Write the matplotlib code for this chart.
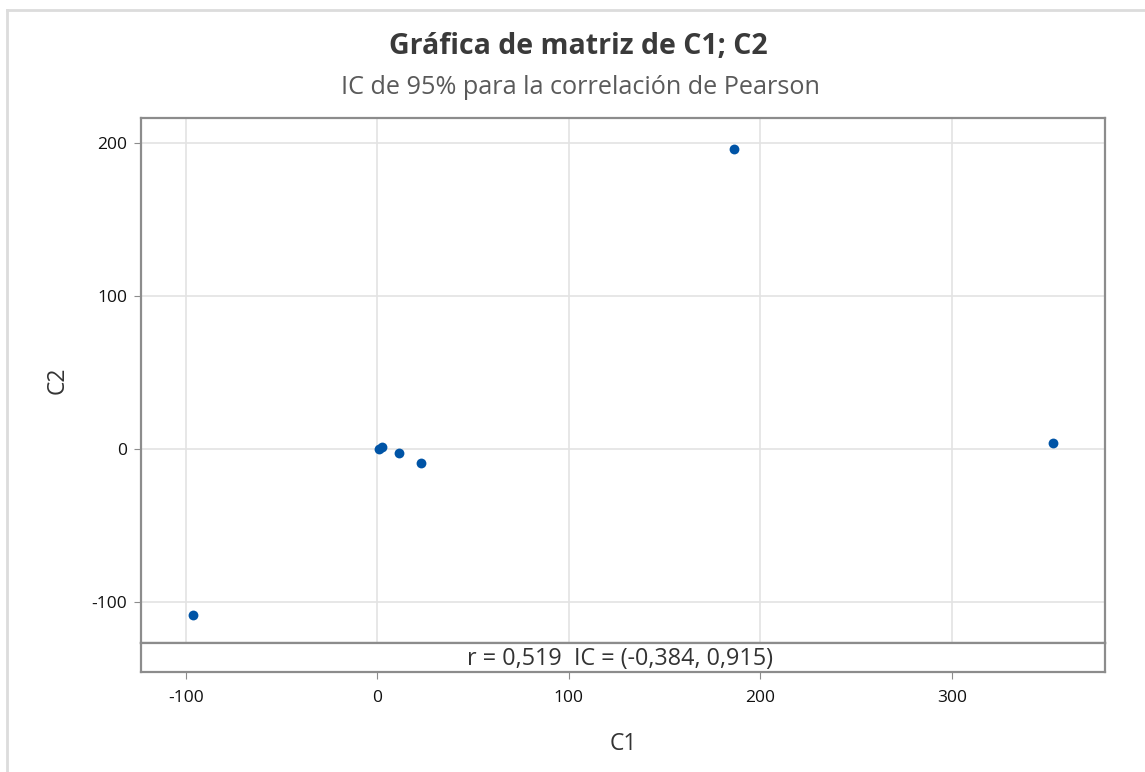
import matplotlib.pyplot as plt
from matplotlib.lines import Line2D

# Datos
c1 = [-96.5, 0.9, 2.2, 11.1, 22.7, 186.3, 352.6]
c2 = [-108.3, 0.0, 1.7, -2.6, -9.2, 196.1, 3.9]
xticks = [-100, 0, 100, 200, 300]
yticks = [-100, 0, 100, 200]
texto_corr = "r = 0,519  IC = (-0,384, 0,915)"

plt.rcParams["font.family"] = ["Open Sans", "DejaVu Sans"]

W, H = 1145, 772
fig = plt.figure(figsize=(W / 100, H / 100), dpi=100)

def rect(l, t, r, b):
    return [l / W, 1 - b / H, (r - l) / W, (b - t) / H]

ax = fig.add_axes(rect(141, 118, 1105, 643))
ax_s = fig.add_axes(rect(141, 643, 1105, 672), sharex=ax)

borde = "#8c8c8c"
for a in (ax, ax_s):
    for sp in a.spines.values():
        sp.set_color(borde)
        sp.set_linewidth(1.6)

ax.scatter(c1, c2, s=50, color="#0054A6", zorder=3, linewidths=0)
ax.set_xlim(-123.5, 380)
ax.set_ylim(-126.6, 216.5)
ax.set_xticks(xticks)
ax.set_yticks(yticks)
ax.set_yticklabels([str(v) for v in yticks])
ax.grid(True, color="#e3e3e3", linewidth=1.2)
ax.set_axisbelow(True)
ax.tick_params(axis="x", bottom=False, labelbottom=False)
ax.tick_params(axis="y", direction="out", length=5, color=borde,
               labelsize=12.5, labelcolor="#111111", pad=5)
ax.set_ylabel("C2", fontsize=16.5, color="#333333", labelpad=16)

ax_s.set_yticks([])
ax_s.tick_params(axis="x", direction="out", length=5, color=borde,
                 labelsize=12.5, labelcolor="#111111", pad=8)
ax_s.set_xticklabels([str(v) for v in xticks])
ax_s.text(0.497, 0.45, texto_corr, transform=ax_s.transAxes, ha="center",
          va="center", fontsize=16.8, color="#333333")
ax_s.set_xlabel("C1", fontsize=16.5, color="#333333", labelpad=19)

fig.text(578 / W, 1 - 47 / H, "Gráfica de matriz de C1; C2", ha="center",
         va="center", fontsize=20.5, fontweight="bold", color="#3a3a3a")
fig.text(580 / W, 1 - 87 / H, "IC de 95% para la correlación de Pearson",
         ha="center", va="center", fontsize=18.2, color="#5a5a5a")

# marco gris claro del recorte
fig.add_artist(Line2D([7 / W, 7 / W], [0, 1 - 10 / H], transform=fig.transFigure,
                      color="#dcdcdc", linewidth=2))
fig.add_artist(Line2D([7 / W, 1], [1 - 10 / H, 1 - 10 / H], transform=fig.transFigure,
                      color="#dcdcdc", linewidth=2))

fig.savefig("out.png", dpi=100)
